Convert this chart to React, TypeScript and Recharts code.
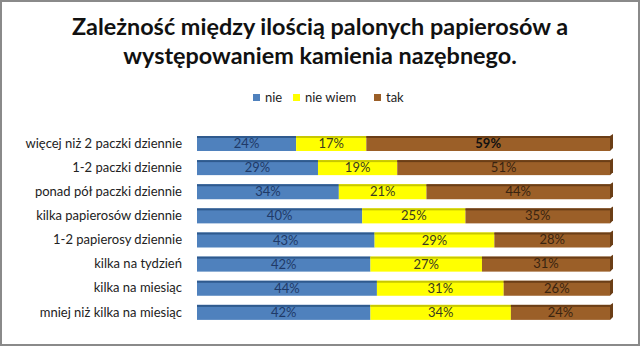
import React from "react";
import { BarChart, Bar, XAxis, YAxis, LabelList, Customized } from "recharts";

const categories = [
  "więcej niż 2 paczki dziennie",
  "1-2 paczki dziennie",
  "ponad pół paczki dziennie",
  "kilka papierosów dziennie",
  "1-2 papierosy dziennie",
  "kilka na tydzień",
  "kilka na miesiąc",
  "mniej niż kilka na miesiąc",
];
const nie = [24, 29, 34, 40, 43, 42, 44, 42];
const nieWiem = [17, 19, 21, 25, 29, 27, 31, 34];
const tak = [59, 51, 44, 35, 28, 31, 26, 24];
const seriesNames = ["nie", "nie wiem", "tak"];

const data = categories.map((c, i) => ({
  name: c,
  nie: nie[i],
  nieWiem: nieWiem[i],
  tak: tak[i],
}));

const COLORS = { nie: "#4F81BD", nieWiem: "#FFFF00", tak: "#9B5F28" };
const EDGE = { nie: "#2F5A8E", nieWiem: "#C8C800", tak: "#6B3E16" };
const FONT = "Lato, 'Open Sans', sans-serif";
const LEGEND_X = [251, 291, 372];

const makeShape = (key: "nie" | "nieWiem" | "tak", cap: boolean) => (props: any) => {
  const { x, y, width, height } = props;
  if (width == null || height == null) return null;
  return (
    <g>
      <rect x={x} y={y} width={width} height={height} fill={COLORS[key]} />
      <rect x={x} y={y} width={width} height={2} fill={EDGE[key]} />
      {cap && (
        <path
          d={`M${x + width},${y} L${x + width + 3},${y - 2} L${x + width + 3},${y + height - 3} L${x + width},${y + height} Z`}
          fill={EDGE[key]}
        />
      )}
    </g>
  );
};

const labelFmt = (v: any) => `${v}%`;

const TakLabel = (props: any) => {
  const { x, y, width, height, value, index } = props;
  return (
    <text
      x={x + width / 2}
      y={y + height / 2 + 1}
      textAnchor="middle"
      dominantBaseline="middle"
      fontSize={13}
      fontFamily={FONT}
      fontWeight={index === 0 ? 700 : 400}
      fill={index === 0 ? "#111" : "#3A2410"}
    >
      {value}%
    </text>
  );
};

const Wall = (props: any) => {
  const off = props.offset || {};
  const l = off.left, t = off.top, h = off.height;
  if (l == null) return null;
  return (
    <g stroke="#8C8C8C" fill="none" strokeWidth={1}>
      <path d={`M${l - 3},${t + 2} L${l - 3},${t + h + 3} L${l + 6},${t + h - 4}`} />
      <path d={`M${l - 3},${t + 2} L${l + 6},${t - 3}`} />
    </g>
  );
};

export default function App() {
  return (
    <div
      style={{
        position: "absolute",
        left: 0,
        top: 0,
        width: 640,
        height: 346,
        boxSizing: "border-box",
        border: "2px solid #8A8A8A",
        background: "#fff",
        overflow: "hidden",
      }}
    >
      <div
        style={{
          position: "absolute",
          left: 0,
          top: 10,
          width: 636,
          textAlign: "center",
          fontFamily: FONT,
          fontWeight: 700,
          fontSize: 23.4,
          lineHeight: "29px",
          color: "#111",
        }}
      >
        Zależność między ilością palonych papierosów a
        <br />
        występowaniem kamienia nazębnego.
      </div>
      {(["nie", "nieWiem", "tak"] as const).map((k, i) => (
        <div
          key={k}
          style={{
            position: "absolute",
            left: LEGEND_X[i],
            top: 87,
            display: "flex",
            alignItems: "center",
            fontFamily: FONT,
            fontSize: 13,
            lineHeight: "16px",
            color: "#222",
          }}
        >
          <span style={{ width: 7, height: 7, background: COLORS[k], display: "inline-block", marginRight: 5 }} />
          {seriesNames[i]}
        </div>
      ))}
      <div style={{ position: "absolute", left: -2, top: -2 }}>
        <BarChart
          width={640}
          height={346}
          data={data}
          layout="vertical"
          stackOffset="expand"
          barSize={15}
          margin={{ top: 131, right: 30, bottom: 22, left: 0 }}
        >
          <XAxis type="number" hide domain={[0, 1]} />
          <YAxis
            type="category"
            dataKey="name"
            width={197}
            tickLine={false}
            axisLine={false}
            tickSize={0}
            tickMargin={15}
            tick={{ fontSize: 13, fontFamily: FONT, fill: "#222" }}
            interval={0}
          />
          <Customized component={Wall} />
          <Bar dataKey="nie" stackId="a" isAnimationActive={false} shape={makeShape("nie", false)}>
            <LabelList dataKey="nie" position="center" formatter={labelFmt} fill="#1F3A68" fontSize={13} fontFamily={FONT} />
          </Bar>
          <Bar dataKey="nieWiem" stackId="a" isAnimationActive={false} shape={makeShape("nieWiem", false)}>
            <LabelList dataKey="nieWiem" position="center" formatter={labelFmt} fill="#3A3A20" fontSize={13} fontFamily={FONT} />
          </Bar>
          <Bar dataKey="tak" stackId="a" isAnimationActive={false} shape={makeShape("tak", true)}>
            <LabelList dataKey="tak" content={<TakLabel />} />
          </Bar>
        </BarChart>
      </div>
    </div>
  );
}
